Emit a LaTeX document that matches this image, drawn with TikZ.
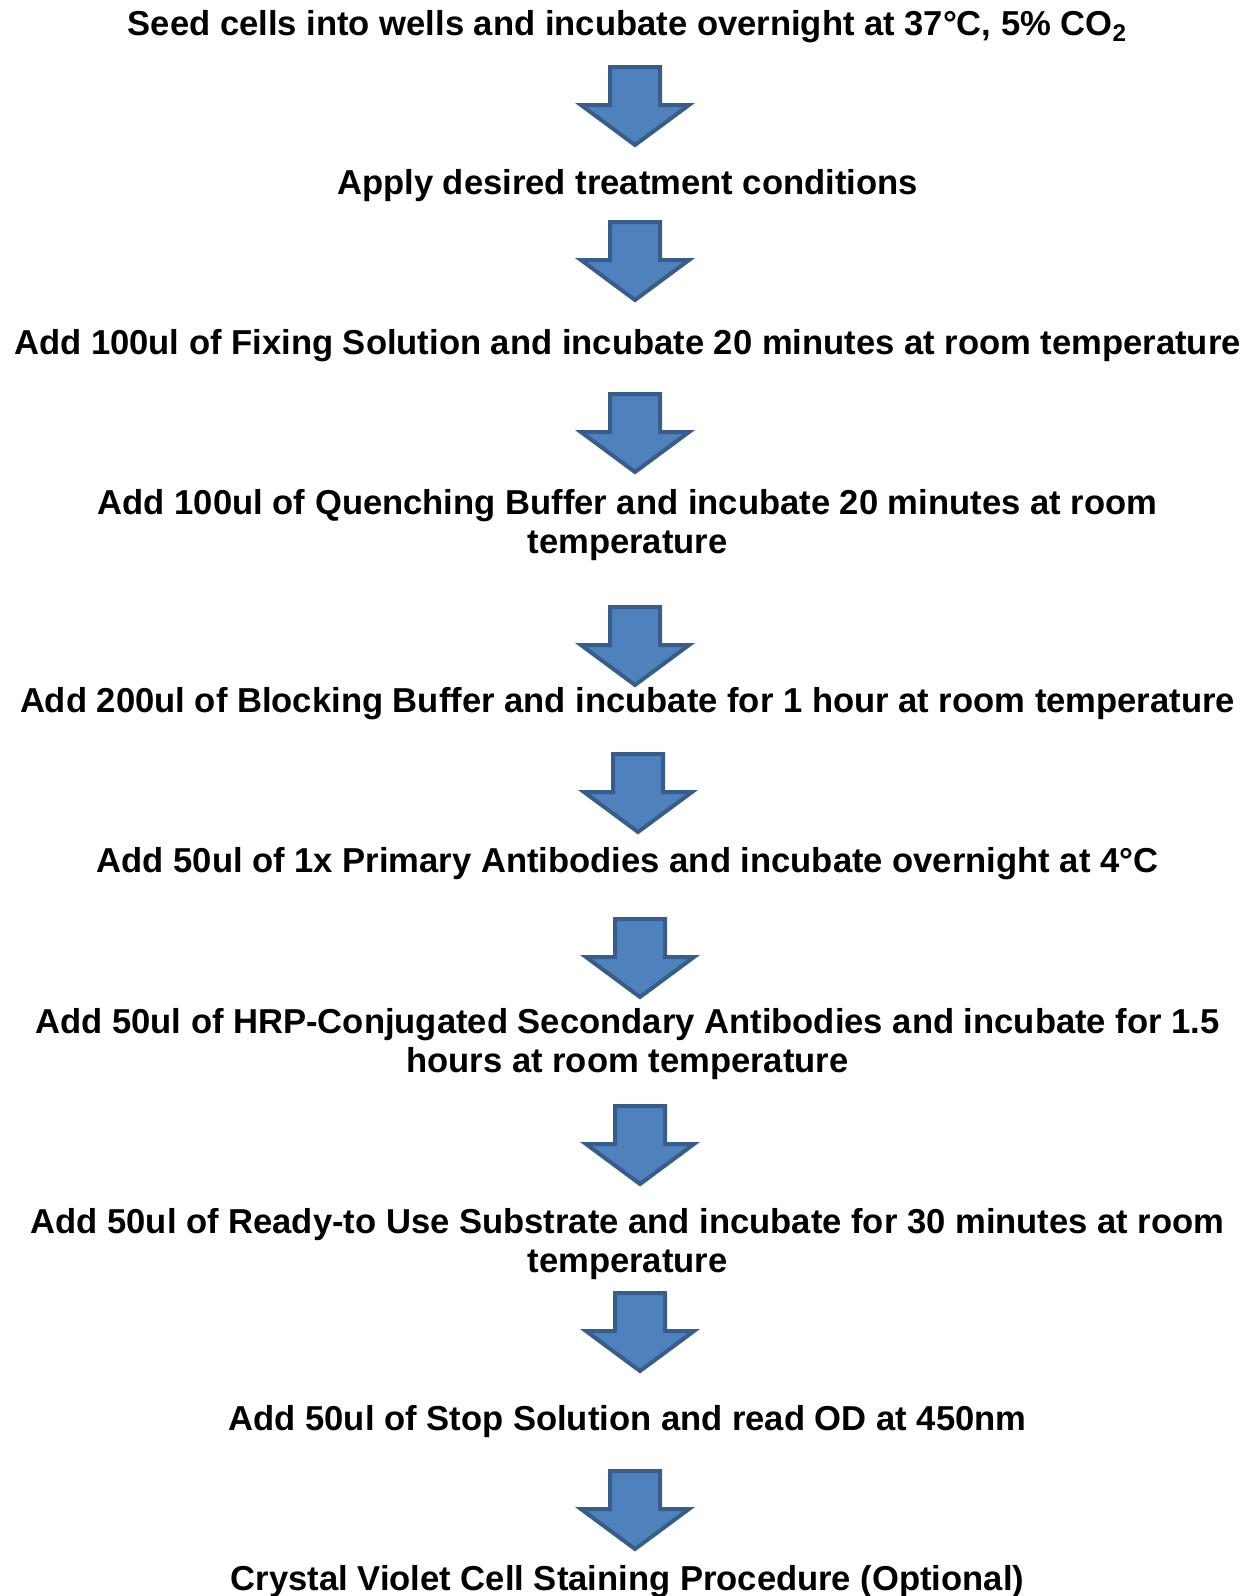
\documentclass[tikz,border=0pt]{standalone}
\usepackage{fontspec}
\setmainfont{Liberation Sans}
\begin{document}
\begin{tikzpicture}[x=0.5pt,y=-0.5pt,
  steptext/.style={font=\fontsize{17.3pt}{19.9pt}\selectfont\bfseries, align=center, inner sep=0pt, anchor=center},
  barrow/.pic={\draw[line width=2pt, draw=arrowedge, fill=arrowfill, line join=miter]
     (-25,0) -- (25,0) -- (25,38) -- (54,38) -- (0,78) -- (-54,38) -- (-25,38) -- cycle;}]
\definecolor{arrowfill}{HTML}{4F81BD}
\definecolor{arrowedge}{HTML}{385D8A}
\useasboundingbox (0,0) rectangle (1255,1596);
\node[steptext] (s1) at (627.5,27) {Seed cells into wells and incubate overnight at 37°C, 5\% CO\textsubscript{2}};
\node[steptext] (s2) at (627.5,186) {Apply desired treatment conditions};
\node[steptext] (s3) at (627.5,346) {Add 100ul of Fixing Solution and incubate 20 minutes at room temperature};
\node[steptext] (s4) at (627.5,525) {Add 100ul of Quenching Buffer and incubate 20 minutes at room\\temperature};
\node[steptext] (s5) at (627.5,704) {Add 200ul of Blocking Buffer and incubate for 1 hour at room temperature};
\node[steptext] (s6) at (627.5,864) {Add 50ul of 1x Primary Antibodies and incubate overnight at 4°C};
\node[steptext] (s7) at (627.5,1044) {Add 50ul of HRP-Conjugated Secondary Antibodies and incubate for 1.5\\hours at room temperature};
\node[steptext] (s8) at (627.5,1244) {Add 50ul of Ready-to Use Substrate and incubate for 30 minutes at room\\temperature};
\node[steptext] (s9) at (627.5,1422) {Add 50ul of Stop Solution and read OD at 450nm};
\node[steptext] (s10) at (627.5,1582) {Crystal Violet Cell Staining Procedure (Optional)};
\pic at (635,67) {barrow};
\pic at (635,222) {barrow};
\pic at (635,394) {barrow};
\pic at (635,607) {barrow};
\pic at (638,754) {barrow};
\pic at (640,919) {barrow};
\pic at (640,1106) {barrow};
\pic at (640,1293) {barrow};
\pic at (635,1471) {barrow};
\end{tikzpicture}
\end{document}
